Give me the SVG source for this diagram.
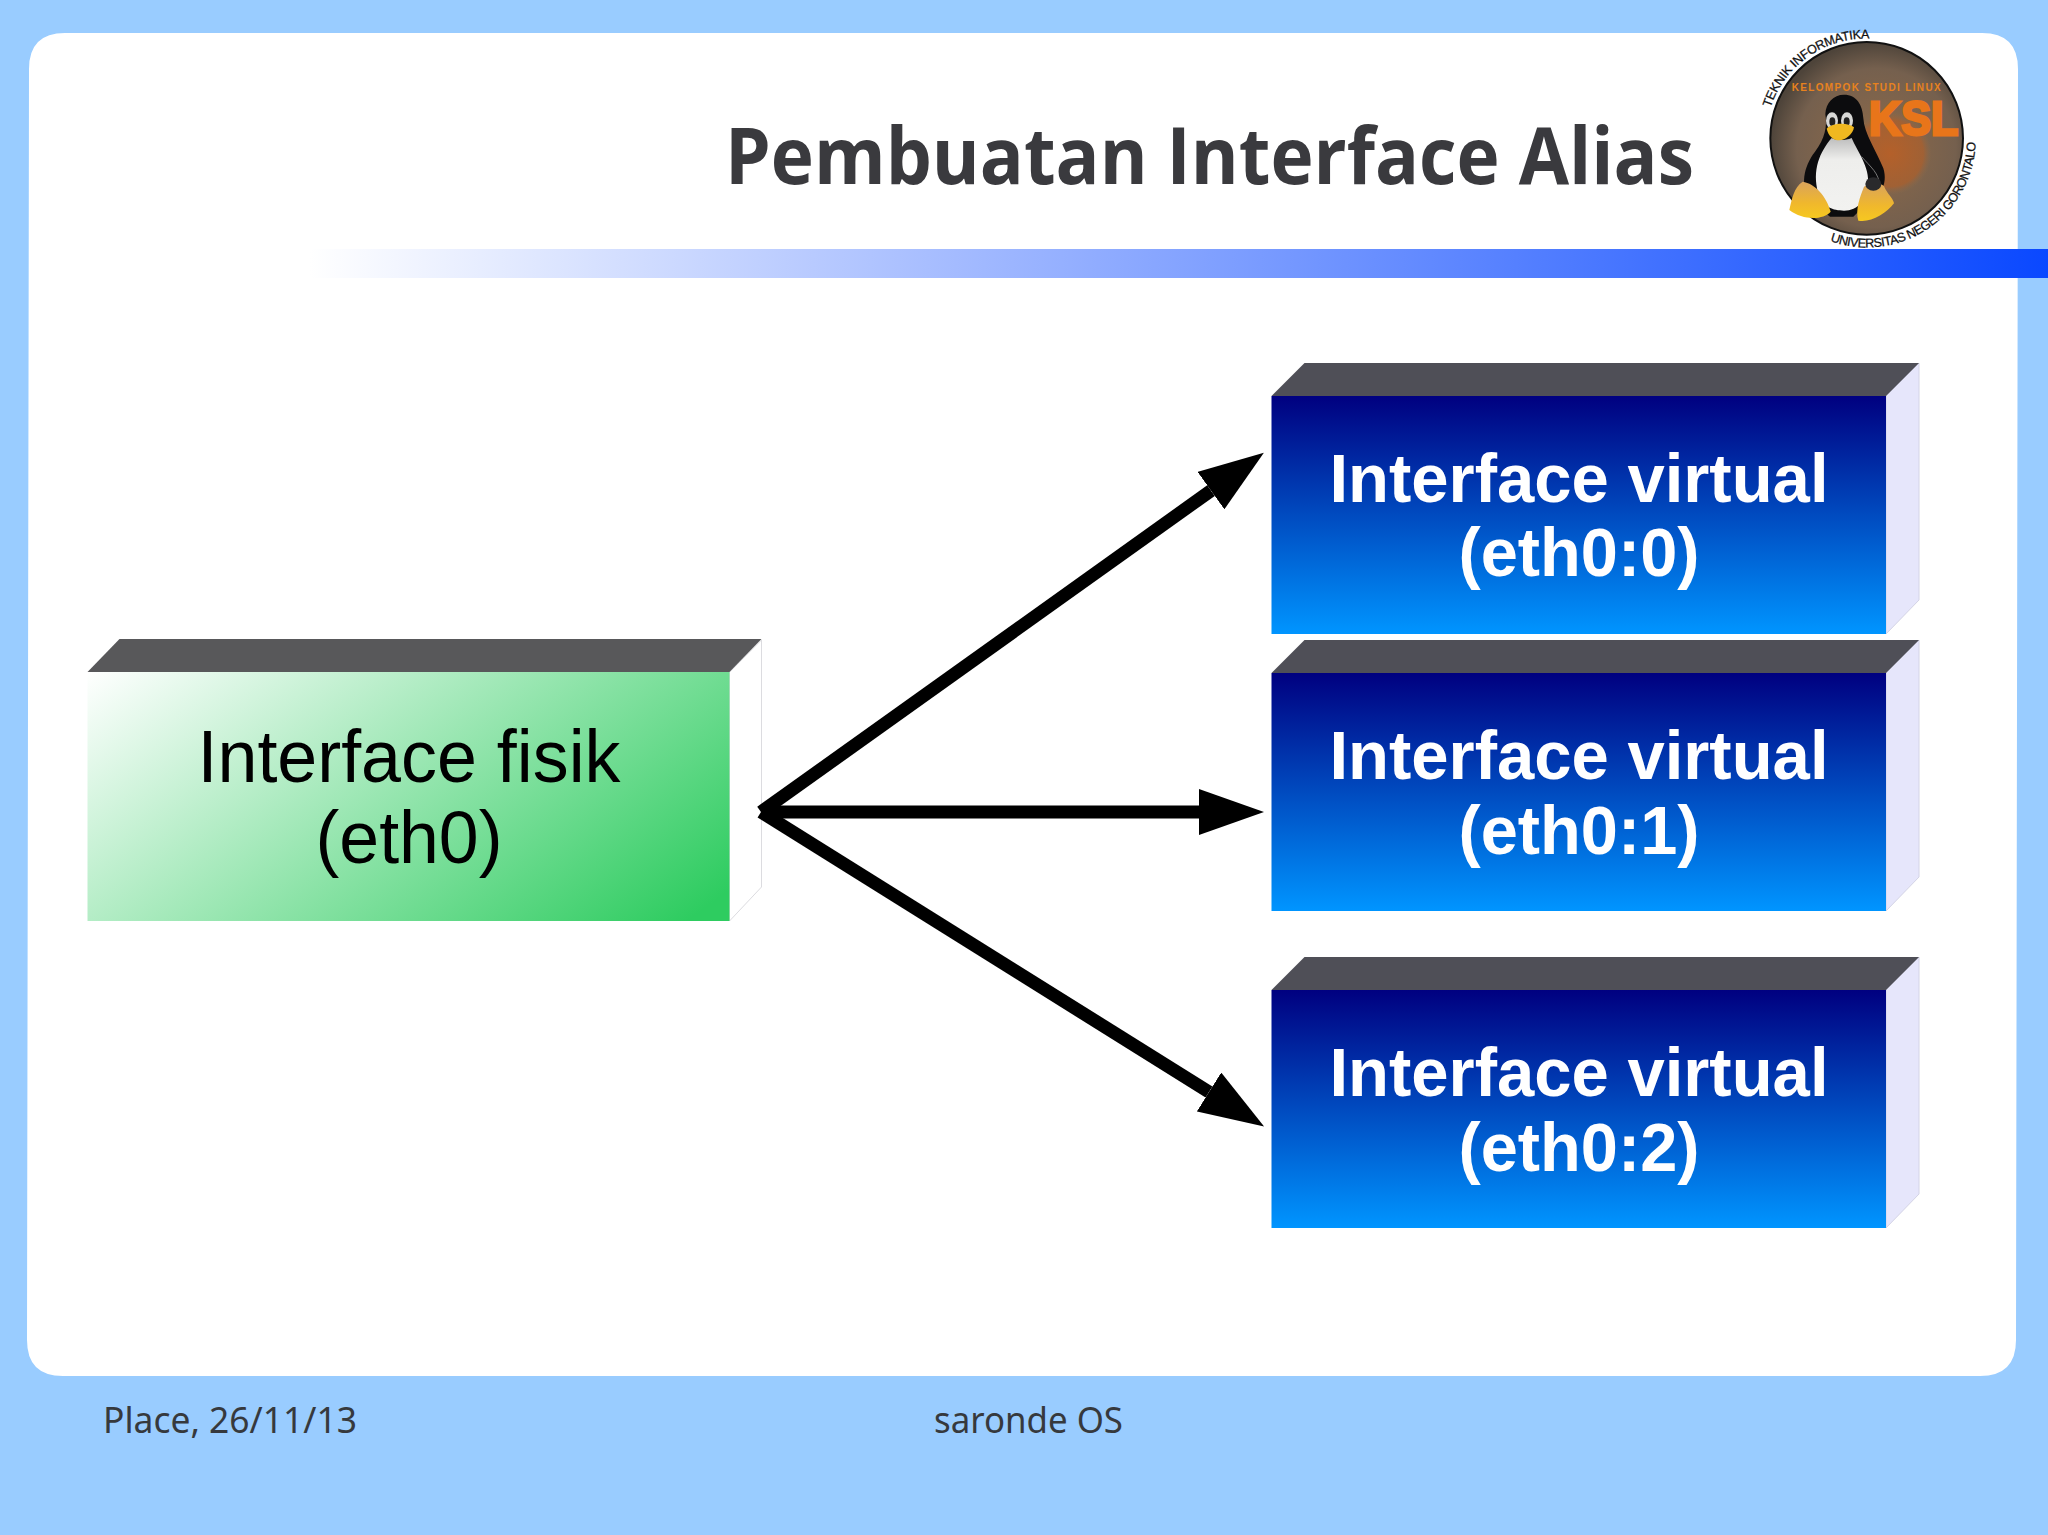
<svg xmlns="http://www.w3.org/2000/svg" width="2048" height="1535" viewBox="0 0 2048 1535">
<style>
.top{fill:#4f4f57}
.side{fill:#e6e6fb;stroke:#d4d4e6;stroke-width:1}
.front{fill:url(#blue)}
.vt{font-family:"Liberation Sans",Arial,sans-serif;font-weight:700;font-size:68px;fill:#fff;text-anchor:middle}
.ft{font-family:"Liberation Sans",Arial,sans-serif;font-size:74px;fill:#000;text-anchor:middle}
.foot{font-family:"Noto Sans",sans-serif;font-size:37px;fill:#36393d}
.arrow{fill:none;stroke:#000;stroke-width:13;marker-end:url(#head)}
.arc{font-family:"Liberation Sans",Arial,sans-serif;font-size:38px;fill:#111;stroke:#111;stroke-width:.8}
</style>
<defs>
<linearGradient id="blue" x1="0" y1="0" x2="0" y2="1"><stop offset="0" stop-color="#000080"/><stop offset="1" stop-color="#0095ff"/></linearGradient>
<linearGradient id="green" gradientUnits="userSpaceOnUse" x1="87" y1="672" x2="420" y2="1120"><stop offset="0" stop-color="#fff"/><stop offset="1" stop-color="#2ecc60"/></linearGradient>
<linearGradient id="bar" x1="0" y1="0" x2="1" y2="0"><stop offset="0" stop-color="#fff"/><stop offset="1" stop-color="#0a48ff"/></linearGradient>
<radialGradient id="disc" cx="0.55" cy="0.55" r="0.55"><stop offset="0" stop-color="#8f6a48"/><stop offset="0.75" stop-color="#75604e"/><stop offset="1" stop-color="#4e443a"/></radialGradient>
<radialGradient id="inner" cx="0.5" cy="0.5" r="0.5"><stop offset="0" stop-color="#b4602a"/><stop offset="0.8" stop-color="#a8602f" stop-opacity=".8"/><stop offset="1" stop-color="#8a6a4c" stop-opacity="0"/></radialGradient>
<linearGradient id="belly" x1="0" y1="0" x2="0" y2="1"><stop offset="0" stop-color="#bdbdbd"/><stop offset=".3" stop-color="#eeeeec"/><stop offset="1" stop-color="#f2f2f0"/></linearGradient>
<linearGradient id="foot" x1="0" y1="0" x2="0" y2="1"><stop offset="0" stop-color="#d9a35c"/><stop offset=".6" stop-color="#f0b82c"/><stop offset="1" stop-color="#f6c820"/></linearGradient>
<marker id="head" markerUnits="userSpaceOnUse" viewBox="0 0 65 46" markerWidth="65" markerHeight="46" refX="0" refY="23" orient="auto"><path d="M0 0L65 23L0 46Z" fill="#000"/></marker>
</defs>
<rect width="2048" height="1535" fill="#99ccff"/>
<path d="M65 33H1982Q2018 33 2018 69L2016 1340Q2016 1376 1980 1376H63Q27 1376 27 1340L29 69Q29 33 65 33Z" fill="#fff"/>
<rect x="310" y="249" width="1738" height="29" fill="url(#bar)"/>
<text x="725" y="184" font-family="'Open Sans',sans-serif" font-weight="700" font-size="78" fill="#3a3a3e" textLength="969" lengthAdjust="spacingAndGlyphs">Pembuatan Interface Alias</text>

<g id="logo" transform="translate(1720,10) scale(.33333)">
<circle cx="440" cy="385" r="289" fill="url(#disc)" stroke="#111" stroke-width="6"/>
<circle cx="510" cy="430" r="125" fill="url(#inner)"/>
<text x="215" y="242" font-family="'Liberation Sans',sans-serif" font-weight="700" font-size="30" fill="#e8821e" textLength="447" lengthAdjust="spacing">KELOMPOK STUDI LINUX</text>
<text x="447" y="376" font-family="'Liberation Sans',sans-serif" font-weight="700" font-size="146" fill="#e8751a" stroke="#e8751a" stroke-width="9" textLength="268" lengthAdjust="spacingAndGlyphs">KSL</text>
<path id="arcA" d="M152 293A300 300 0 0 1 448 86" fill="none"/>
<path id="arcB" d="M330 693A326 326 0 0 0 767 393" fill="none"/>
<text class="arc"><textPath href="#arcA" textLength="388" lengthAdjust="spacing">TEKNIK INFORMATIKA</textPath></text>
<text class="arc"><textPath href="#arcB" textLength="615" lengthAdjust="spacing">UNIVERSITAS NEGERI GORONTALO</textPath></text>
<path d="M372 254C410 254 428 285 430 325C432 370 470 425 490 475C505 525 480 565 430 590L400 620H330L270 570C240 530 250 470 285 425C315 385 322 350 316 312C318 278 340 254 372 254Z" fill="#0c0c0e"/>
<path d="M335 384C300 425 275 480 295 550C308 592 340 602 372 602C415 602 438 570 444 525C450 470 412 425 395 384C375 392 350 392 335 384Z" fill="url(#belly)"/>
<path d="M425 440C450 470 480 490 478 530" fill="none" stroke="#777" stroke-width="3"/>
<ellipse cx="336" cy="332" rx="18" ry="25" fill="#d8d8d6"/><ellipse cx="381" cy="332" rx="18" ry="25" fill="#d8d8d6"/>
<ellipse cx="337" cy="335" rx="9" ry="13" fill="#222"/><ellipse cx="380" cy="335" rx="9" ry="13" fill="#222"/>
<path d="M320 356C335 338 385 336 402 352C400 372 375 391 358 391C340 391 325 378 320 356Z" fill="#f0b820"/>
<path d="M248 515C285 520 320 560 332 605C310 630 250 632 208 600C215 570 222 530 248 515Z" fill="url(#foot)"/>
<path d="M432 530C445 520 480 515 492 528C500 550 520 565 522 580C500 610 450 640 415 632C405 600 420 560 432 530Z" fill="url(#foot)"/>
<ellipse cx="460" cy="522" rx="24" ry="20" fill="#2a2a2c"/>
</g>

<g id="node-fisik">
<path d="M761.500 640V887L729.500 921V672Z" fill="#fff" stroke="#dcdce0" stroke-width="1"/>
<path d="M87.500 672L119.500 639H761.500L729.500 672Z" fill="#58585a"/>
<rect x="87.500" y="672" width="642" height="249" fill="url(#green)"/>
<text class="ft" x="409" y="782" textLength="423" lengthAdjust="spacingAndGlyphs">Interface fisik</text>
<text class="ft" x="409" y="863" textLength="187" lengthAdjust="spacingAndGlyphs">(eth0)</text>
</g>
<g id="node-eth0-0">
<path class="side" d="M1919 363V600L1886 634V396Z"/>
<path class="top" d="M1271.500 396L1304.500 363H1919L1886 396Z"/>
<rect class="front" x="1271.500" y="396" width="614.500" height="238"/>
<text class="vt" x="1579" y="502" textLength="499" lengthAdjust="spacingAndGlyphs">Interface virtual</text>
<text class="vt" x="1579" y="576" textLength="241" lengthAdjust="spacingAndGlyphs">(eth0:0)</text>
</g>
<g id="node-eth0-1">
<path class="side" d="M1919 640V877L1886 911V673Z"/>
<path class="top" d="M1271.500 673L1304.500 640H1919L1886 673Z"/>
<rect class="front" x="1271.500" y="673" width="614.500" height="238"/>
<text class="vt" x="1579" y="779" textLength="499" lengthAdjust="spacingAndGlyphs">Interface virtual</text>
<text class="vt" x="1579" y="854" textLength="241" lengthAdjust="spacingAndGlyphs">(eth0:1)</text>
</g>
<g id="node-eth0-2">
<path class="side" d="M1919 957V1194L1886 1228V990Z"/>
<path class="top" d="M1271.500 990L1304.500 957H1919L1886 990Z"/>
<rect class="front" x="1271.500" y="990" width="614.500" height="238"/>
<text class="vt" x="1579" y="1096" textLength="499" lengthAdjust="spacingAndGlyphs">Interface virtual</text>
<text class="vt" x="1579" y="1171" textLength="241" lengthAdjust="spacingAndGlyphs">(eth0:2)</text>
</g>
<g id="connectors">
<path class="arrow" d="M761 812L1211 490.600"/>
<path class="arrow" d="M761 812L1199 812"/>
<path class="arrow" d="M761 812L1209 1092"/>
</g>
<text class="foot" x="103" y="1433" textLength="254" lengthAdjust="spacingAndGlyphs">Place, 26/11/13</text>
<text class="foot" x="934" y="1433" textLength="189" lengthAdjust="spacingAndGlyphs">saronde OS</text>
</svg>
